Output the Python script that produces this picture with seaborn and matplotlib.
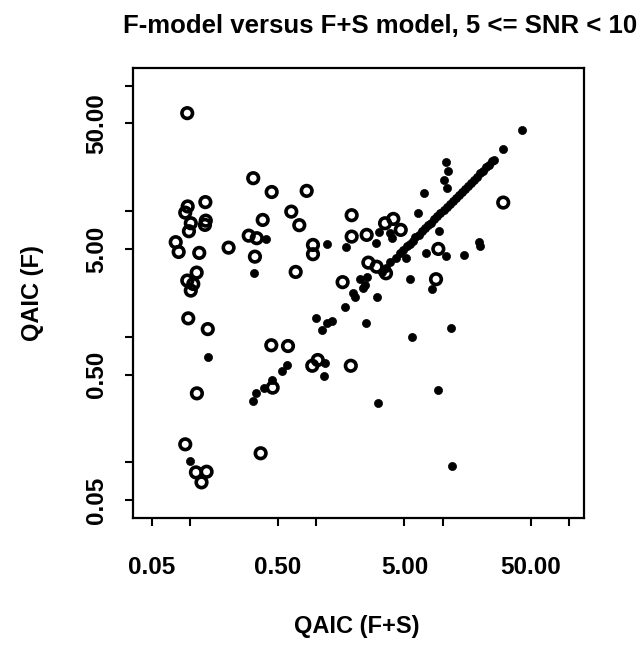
import numpy as np
import pandas as pd
import matplotlib
matplotlib.use("Agg")
import matplotlib.pyplot as plt
import seaborn as sns

# ---- data ----
# open circles
open_x = [0.0956, 0.318, 0.445, 0.842, 0.133, 0.0964, 0.0922, 0.636, 0.378, 0.134,
          0.132, 0.102, 0.736, 0.0986, 0.293, 0.339, 0.0775, 0.0818, 0.119, 0.203,
          0.944, 0.944, 0.328, 0.1135, 0.689, 0.0957, 0.1067, 0.102, 0.0974, 0.139,
          0.442, 0.599, 0.932, 1.03, 0.453, 0.114, 0.0922, 0.112, 0.136, 0.124,
          0.364, 30.2, 1.91, 3.51, 4.08, 4.67, 1.91, 2.51, 9.26, 2.59,
          3.01, 3.57, 1.62, 8.88, 1.88]
open_y = [60.3, 18.3, 14.2, 14.5, 11.8, 10.9, 9.73, 9.91, 8.51, 8.40,
          7.77, 8.01, 7.73, 6.92, 6.38, 6.09, 5.66, 4.73, 4.65, 5.12,
          5.38, 4.54, 4.34, 3.24, 3.28, 2.80, 2.63, 2.33, 1.40, 1.15,
          0.855, 0.843, 0.587, 0.652, 0.393, 0.354, 0.139, 0.0831, 0.0841, 0.0692,
          0.118, 11.7, 9.28, 8.01, 8.67, 7.09, 6.27, 6.47, 5.0, 3.89,
          3.61, 3.20, 2.72, 2.87, 0.587]

# filled dots
dot_x = [0.401, 1.22, 0.322, 0.139, 0.992, 1.11, 1.21, 0.585, 0.534, 1.17,
         1.16, 0.445, 0.389, 0.334, 0.316, 0.101, 42.8, 30.1, 10.6, 11.0,
         10.3, 10.9, 7.13, 6.39, 3.14, 3.84, 3.96, 2.96, 1.71, 9.37,
         7.36, 10.7, 14.7, 5.14, 19.4, 19.7, 3.84, 2.22, 2.51, 2.36,
         2.44, 1.97, 2.03, 3.03, 5.53, 8.25, 1.68, 1.33, 2.48, 11.7,
         5.77, 9.25, 3.07, 11.9]
dot_y = [6.01, 5.45, 3.20, 0.689, 1.41, 1.13, 1.28, 0.598, 0.536, 0.621,
         0.486, 0.452, 0.393, 0.358, 0.308, 0.103, 44.4, 31.3, 24.7, 20.9,
         17.7, 15.4, 13.9, 9.68, 6.83, 6.67, 6.09, 5.55, 5.16, 7.0,
         4.67, 4.37, 4.48, 4.26, 5.66, 5.31, 3.96, 2.87, 3.01, 2.43,
         2.58, 2.22, 2.08, 2.08, 2.88, 2.41, 1.73, 1.33, 1.29, 1.17,
         1.00, 0.376, 0.298, 0.0933]

# points lying on the diagonal (F and F+S equal)
diag_x = [3.3, 3.6, 4.3, 4.6, 4.9, 5.2, 5.5, 5.8, 6.1, 6.5, 6.9, 7.3, 7.7, 8.1,
          8.6, 9.1, 9.6, 10.2, 10.8, 11.4, 12.0, 12.7, 13.4, 14.2, 15.0, 15.9,
          16.8, 17.8, 18.8, 19.9, 21.0, 22.2, 23.5, 24.8, 25.6]
diag_y = [3.3, 3.5, 4.2, 4.6, 4.9, 5.3, 5.5, 5.8, 6.2, 6.5, 6.9, 7.4, 7.7, 8.1,
          8.7, 9.1, 9.6, 10.3, 10.8, 11.4, 12.1, 12.7, 13.5, 14.2, 15.0, 15.9,
          16.9, 17.8, 18.8, 20.0, 21.0, 22.3, 23.5, 24.9, 25.6]

tick_vals = [0.05, 0.1, 0.5, 1, 5, 10, 50, 100]
tick_labels = ["0.05", "", "0.50", "", "5.00", "", "50.00", ""]

title = "F-model versus F+S model, 5 <= SNR < 10"
xlab = "QAIC (F+S)"
ylab = "QAIC (F)"

# ---- build frames ----
df_open = pd.DataFrame({"x": open_x, "y": open_y})
df_dot = pd.DataFrame({"x": dot_x + diag_x, "y": dot_y + diag_y})

sns.set_style("white")
plt.rcParams["font.family"] = ["Liberation Sans", "DejaVu Sans"]
plt.rcParams["font.weight"] = "bold"
plt.rcParams["text.color"] = "black"
plt.rcParams["xtick.color"] = "black"
plt.rcParams["ytick.color"] = "black"
plt.rcParams["axes.labelcolor"] = "black"

fig = plt.figure(figsize=(6.43, 6.45), dpi=100)
ax = fig.add_axes([133 / 643, 1 - 518 / 645, (584 - 133) / 643, (518 - 68) / 645])

sns.scatterplot(data=df_dot, x="x", y="y", ax=ax, s=34, color="black",
                edgecolor="black", linewidth=0.5, zorder=3)
sns.scatterplot(data=df_open, x="x", y="y", ax=ax, s=58, facecolor="none",
                edgecolor="black", linewidth=2.6, zorder=4)

ax.set_xscale("log")
ax.set_yscale("log")
ax.set_xlim(0.0356, 131.5)
ax.set_ylim(0.036, 138)

ax.set_xticks(tick_vals)
ax.set_xticklabels(tick_labels, fontsize=17.5, fontweight="bold")
ax.set_yticks(tick_vals)
ax.set_yticklabels(tick_labels, fontsize=17.5, fontweight="bold", rotation=90, va="center")
ax.minorticks_off()
ax.tick_params(axis="both", which="major", direction="out", length=6, width=1.5,
               color="black", labelcolor="black", bottom=True, left=True)
ax.tick_params(axis="x", pad=21)
ax.tick_params(axis="y", pad=12)

for sp in ax.spines.values():
    sp.set_visible(True)
    sp.set_color("black")
    sp.set_linewidth(1.6)

ax.set_xlabel("")
ax.set_ylabel("")
fig.text(357 / 643, 1 - 627 / 645, xlab, ha="center", va="center",
         fontsize=17, fontweight="bold", color="black")
fig.text(33 / 643, 1 - 293 / 645, ylab, ha="center", va="center", rotation=90,
         fontsize=17, fontweight="bold", color="black")
fig.text(380 / 643, 1 - 26 / 645, title, ha="center", va="center",
         fontsize=18.5, fontweight="bold", color="black")

fig.savefig("out.png", dpi=100, facecolor="white")
